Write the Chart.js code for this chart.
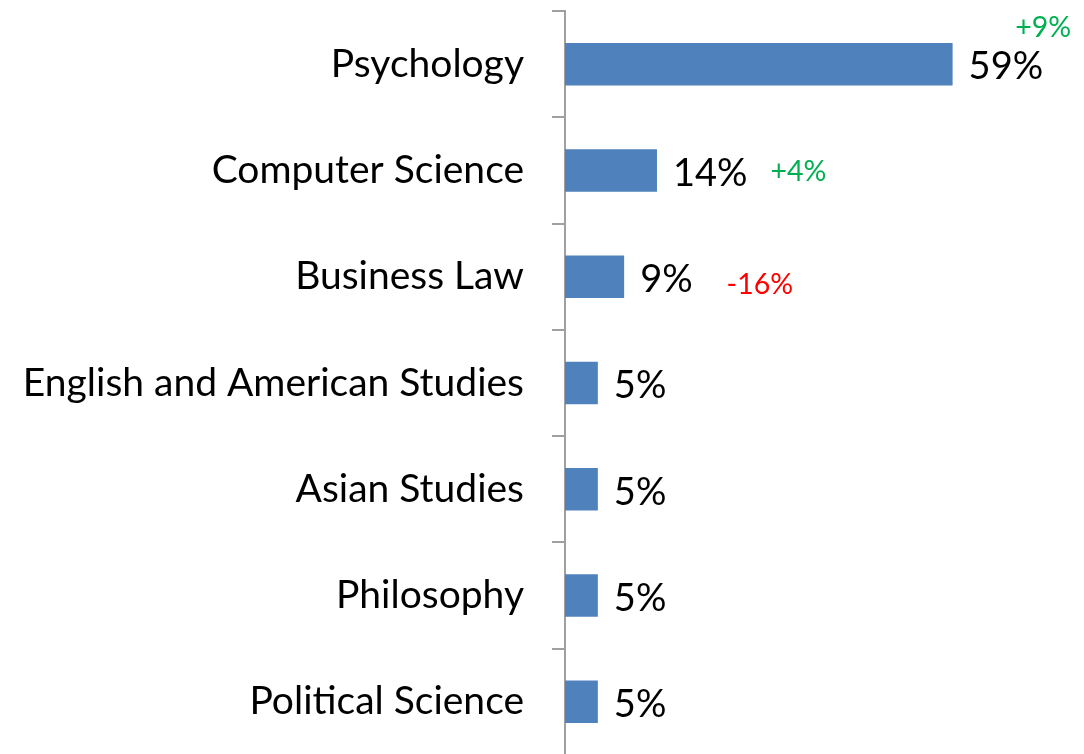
<!DOCTYPE html>
<html>
<head>
<meta charset="utf-8">
<script src="https://cdn.jsdelivr.net/npm/chart.js@4/dist/chart.umd.min.js"></script>
<style>
  html, body { margin: 0; padding: 0; background: #ffffff; overflow: hidden; }
  #wrap { position: relative; width: 1084px; height: 755px; }
</style>
</head>
<body>
<div id="wrap"><canvas id="chart"></canvas></div>
<script>
// Share of enrolments by field of study, with change versus the previous period
const categories = [
  'Psychology',
  'Computer Science',
  'Business Law',
  'English and American Studies',
  'Asian Studies',
  'Philosophy',
  'Political Science'
];
const shares = [59, 14, 9, 5, 5, 5, 5];
const changes = ['+9%', '+4%', '-16%', '', '', '', ''];

const FONT = 'Lato, "Open Sans", sans-serif';
const CATEGORY_SIZE = 39;
const VALUE_SIZE = 38;
const CHANGE_SIZE = 28.5;

// Where each change note sits relative to the end of its value label
const changePlacement = {
  0: { dx: 28, dy: -39, align: 'right' },
  1: { dx: 23, dy: -2, align: 'left' },
  2: { dx: 34, dy: 5, align: 'left' }
};

const valueLabels = {
  id: 'valueLabels',
  afterDatasetsDraw(chart) {
    const { ctx } = chart;
    const meta = chart.getDatasetMeta(0);
    ctx.save();
    meta.data.forEach((bar, i) => {
      const text = shares[i] + '%';
      ctx.font = VALUE_SIZE + 'px ' + FONT;
      ctx.fillStyle = '#000000';
      ctx.textAlign = 'left';
      ctx.textBaseline = 'middle';
      const x = bar.x + 16;
      const y = bar.y + 3;
      ctx.fillText(text, x, y);
      const end = x + ctx.measureText(text).width;

      const change = changes[i];
      if (change) {
        const p = changePlacement[i] || { dx: 24, dy: 0, align: 'left' };
        ctx.font = CHANGE_SIZE + 'px ' + FONT;
        ctx.fillStyle = change.startsWith('-') ? '#ff0000' : '#00b050';
        ctx.textAlign = p.align;
        ctx.fillText(change, end + p.dx, y + p.dy);
      }
    });
    ctx.restore();
  }
};

new Chart(document.getElementById('chart'), {
  type: 'bar',
  data: {
    labels: categories,
    datasets: [{
      data: shares,
      backgroundColor: '#4f81bd',
      borderWidth: 0,
      barPercentage: 0.4,
      categoryPercentage: 1.0
    }]
  },
  options: {
    indexAxis: 'y',
    responsive: true,
    maintainAspectRatio: false,
    animation: false,
    layout: { padding: { top: 11, right: 0, bottom: 0, left: 0 } },
    plugins: {
      legend: { display: false },
      tooltip: { enabled: false }
    },
    scales: {
      x: {
        display: false,
        min: 0,
        max: 79
      },
      y: {
        afterFit(scale) {
          scale.width = 565;
          scale.paddingTop = 0;
          scale.paddingBottom = 0;
        },
        border: { display: true, color: '#a0a0a0', width: 2 },
        grid: {
          display: true,
          offset: true,
          drawOnChartArea: false,
          drawTicks: true,
          tickLength: 13,
          color: '#a0a0a0',
          lineWidth: 2
        },
        ticks: {
          color: '#000000',
          padding: 28,
          font: { family: FONT, size: CATEGORY_SIZE }
        }
      }
    }
  },
  plugins: [valueLabels]
});
</script>
</body>
</html>
